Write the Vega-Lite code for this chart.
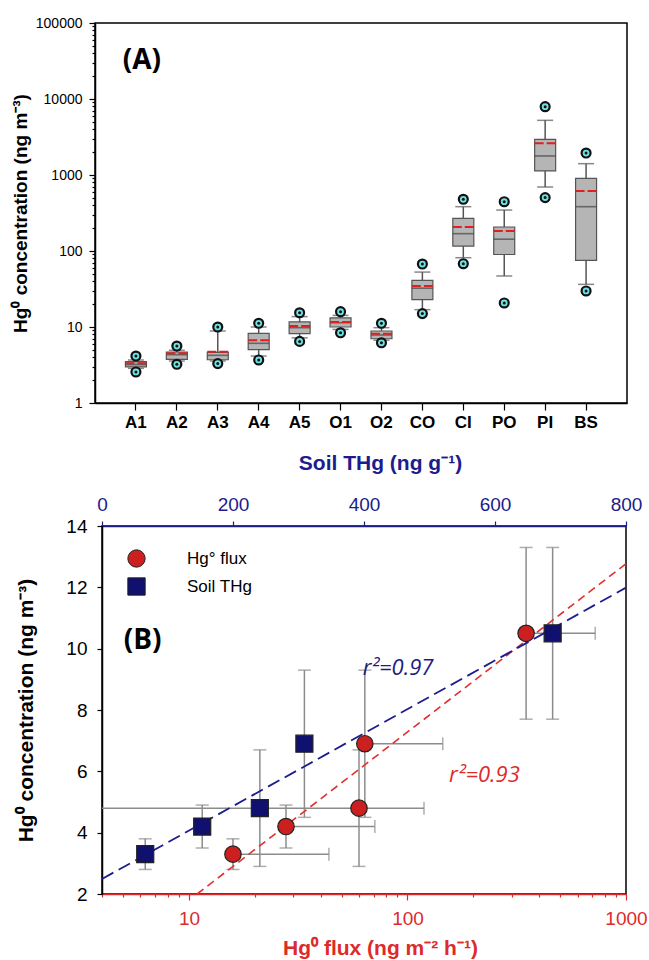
{
  "$schema": "https://vega.github.io/schema/vega-lite/v6.json",
  "background": "white",
  "padding": {"left": 10, "top": 15, "right": 5, "bottom": 5},
  "config": {
    "font": "Liberation Sans",
    "view": {"stroke": "#000", "strokeWidth": 1.5},
    "axis": {
      "labelFont": "Liberation Sans", "titleFont": "Liberation Sans", "grid": false,
      "domainColor": "#000", "tickColor": "#000", "labelColor": "#000", "titleColor": "#000",
      "domainWidth": 1.5, "tickWidth": 1.2, "labelFlush": false, "labelOverlap": false
    }
  },
  "datasets": {
    "boxes": [
      {"site": "A1", "p5": 2.56, "p10": 2.86, "q1": 2.98, "med": 3.2, "mean": 3.33, "q3": 3.5, "p90": 3.68, "p95": 4.15},
      {"site": "A2", "p5": 3.23, "p10": 3.57, "q1": 3.76, "med": 4.32, "mean": 4.51, "q3": 4.69, "p90": 4.94, "p95": 5.62},
      {"site": "A3", "p5": 3.3, "p10": 3.57, "q1": 3.71, "med": 4.24, "mean": 4.73, "q3": 4.64, "p90": 8.86, "p95": 10.0},
      {"site": "A4", "p5": 3.68, "p10": 4.15, "q1": 5.03, "med": 6.1, "mean": 6.68, "q3": 8.26, "p90": 10.0, "p95": 11.2},
      {"site": "A5", "p5": 6.46, "p10": 7.2, "q1": 8.17, "med": 9.8, "mean": 10.3, "q3": 11.7, "p90": 13.7, "p95": 15.4},
      {"site": "O1", "p5": 8.4, "p10": 9.3, "q1": 10.0, "med": 11.4, "mean": 11.6, "q3": 13.2, "p90": 14.2, "p95": 15.9},
      {"site": "O2", "p5": 6.2, "p10": 6.7, "q1": 7.0, "med": 7.85, "mean": 8.17, "q3": 8.86, "p90": 9.8, "p95": 11.2},
      {"site": "CO", "p5": 15.0, "p10": 16.9, "q1": 22.9, "med": 32.4, "mean": 34.6, "q3": 41.1, "p90": 52.8, "p95": 67.4},
      {"site": "CI", "p5": 68, "p10": 81.6, "q1": 116, "med": 169, "mean": 207, "q3": 269, "p90": 383, "p95": 479},
      {"site": "PO", "p5": 20.7, "p10": 46.9, "q1": 90, "med": 143, "mean": 183, "q3": 207, "p90": 346, "p95": 445},
      {"site": "PI", "p5": 504, "p10": 695, "q1": 1130, "med": 1780, "mean": 2610, "q3": 2950, "p90": 5240, "p95": 7920},
      {"site": "BS", "p5": 29.8, "p10": 36.4, "q1": 75.4, "med": 383, "mean": 615, "q3": 904, "p90": 1410, "p95": 1946}
    ],
    "sites": [
      {"site": 1, "conc": 3.3, "cmin": 2.8, "cmax": 3.8, "flux": 15.9, "fluxlo": 15.9, "fluxhi": 43.7, "soil": 66},
      {"site": 2, "conc": 4.2, "cmin": 3.5, "cmax": 4.9, "flux": 27.8, "fluxlo": 27.8, "fluxhi": 70.9, "soil": 153},
      {"site": 3, "conc": 4.8, "cmin": 2.9, "cmax": 6.7, "flux": 60, "fluxlo": 1, "fluxhi": 119, "soil": 241},
      {"site": 4, "conc": 6.9, "cmin": 4.5, "cmax": 9.3, "flux": 63.8, "fluxlo": 63.8, "fluxhi": 145, "soil": 309},
      {"site": 5, "conc": 10.5, "cmin": 7.7, "cmax": 13.3, "flux": 349, "fluxlo": null, "fluxhi": null, "soil": 688, "soillo": 645, "soilhi": 753}
    ],
    "fluxfit": [{"flux": 10.9, "conc": 2.0}, {"flux": 1000, "conc": 12.77}],
    "soilfit": [{"soil": 0, "conc": 2.49}, {"soil": 800, "conc": 11.99}]
  },
  "vconcat": [
    {
      "width": 532,
      "height": 380,
      "data": {"name": "boxes"},
      "encoding": {
        "x": {
          "field": "site", "type": "nominal",
          "scale": {"type": "band", "domain": ["A1","A2","A3","A4","A5","O1","O2","CO","CI","PO","PI","BS"], "paddingInner": 0.487, "paddingOuter": 0.7435},
          "axis": {"title": null, "labelAngle": 0, "labelFontSize": 17, "labelFontWeight": "bold", "tickSize": 7, "labelPadding": 4}
        }
      },
      "layer": [
        {
          "mark": {"type": "rule", "color": "#555", "strokeWidth": 1.5},
          "encoding": {
            "y": {
              "field": "p10", "type": "quantitative",
              "scale": {"type": "log", "domain": [1, 100000], "nice": false, "padding": 0},
              "axis": {
                "title": "Hg⁰ concentration (ng m⁻³)", "titleFontSize": 19, "titleFontWeight": "bold",
                "titleX": -75, "titleBaseline": "middle",
                "values": [1,2,3,4,5,6,7,8,9,10,20,30,40,50,60,70,80,90,100,200,300,400,500,600,700,800,900,1000,2000,3000,4000,5000,6000,7000,8000,9000,10000,20000,30000,40000,50000,60000,70000,80000,90000,100000],
                "format": "d",
                "labelExpr": "indexof([1,10,100,1000,10000,100000], datum.value) >= 0 ? datum.label : ''",
                "tickSize": {"condition": {"test": "indexof([1,10,100,1000,10000,100000], datum.value) >= 0", "value": 6}, "value": 3},
                "labelFontSize": 14, "labelPadding": 7
              }
            },
            "y2": {"field": "p90"}
          }
        },
        {
          "transform": [{"fold": ["p10", "p90"], "as": ["k", "v"]}],
          "mark": {"type": "tick", "orient": "horizontal", "size": 16, "thickness": 1.5, "color": "#555"},
          "encoding": {"y": {"field": "v", "type": "quantitative"}}
        },
        {
          "mark": {"type": "bar", "fill": "#b5b5b5", "stroke": "#555", "strokeWidth": 1.2},
          "encoding": {"y": {"field": "q1", "type": "quantitative"}, "y2": {"field": "q3"}}
        },
        {
          "mark": {"type": "tick", "orient": "horizontal", "size": 21, "thickness": 1.6, "color": "#444"},
          "encoding": {"y": {"field": "med", "type": "quantitative"}}
        },
        {
          "mark": {"type": "point", "shape": "M-1,0L1,0", "size": 441, "filled": false, "color": "#e02020", "strokeWidth": 2, "strokeDash": [9, 3], "opacity": 1},
          "encoding": {"y": {"field": "mean", "type": "quantitative"}}
        },
        {
          "transform": [{"fold": ["p5", "p95"], "as": ["k", "v"]}],
          "mark": {"type": "point", "shape": "circle", "size": 80, "filled": true, "fill": "#6fe3e3", "stroke": "#111", "strokeWidth": 2.2, "opacity": 1},
          "encoding": {"y": {"field": "v", "type": "quantitative"}}
        },
        {
          "transform": [{"fold": ["p5", "p95"], "as": ["k", "v"]}],
          "mark": {"type": "point", "shape": "circle", "size": 9, "filled": true, "color": "#111", "opacity": 1},
          "encoding": {"y": {"field": "v", "type": "quantitative"}}
        },
        {
          "data": {"values": [{"t": "(A)"}]},
          "mark": {"type": "text", "font": "Open Sans", "fontWeight": "bold", "fontSize": 28, "dx": 6, "align": "center", "baseline": "middle", "color": "#000"},
          "encoding": {"x": {"datum": "A1"}, "y": {"datum": 31623}, "text": {"field": "t"}}
        }
      ]
    },
    {
      "hconcat": [
        {
          "width": 7, "height": 368,
          "data": {"values": [{"z": 0}]},
          "mark": {"type": "point", "opacity": 0},
          "encoding": {},
          "view": {"stroke": "transparent"}
        },
        {
          "width": 524,
          "height": 368,
          "resolve": {"scale": {"x": "independent"}},
          "layer": [
            {
              "data": {"name": "sites"},
              "transform": [{"filter": "isValid(datum.fluxhi)"}],
              "mark": {"type": "rule", "color": "#8c8c8c", "strokeWidth": 1.5, "clip": true},
              "encoding": {
                "x": {
                  "field": "fluxlo", "type": "quantitative",
                  "scale": {"type": "log", "domain": [4, 1000], "nice": false, "padding": 0},
                  "axis": {
                    "orient": "bottom", "title": "Hg⁰ flux (ng m⁻² h⁻¹)", "titleColor": "#dd2a2a", "titleFontSize": 21, "titleFontWeight": "bold",
                    "titleX": 278, "titleY": 54, "titleBaseline": "middle",
                    "values": [4,5,6,7,8,9,10,20,30,40,50,60,70,80,90,100,200,300,400,500,600,700,800,900,1000],
                    "format": "d",
                    "labelExpr": "indexof([10,100,1000], datum.value) >= 0 ? datum.label : ''",
                    "tickSize": {"condition": {"test": "indexof([10,100,1000], datum.value) >= 0", "value": 6}, "value": 3},
                    "labelFontSize": 19, "labelColor": "#dd2a2a", "labelPadding": 9,
                    "domainColor": "#dd2a2a", "tickColor": "#dd2a2a"
                  }
                },
                "x2": {"field": "fluxhi"},
                "y": {
                  "field": "conc", "type": "quantitative",
                  "scale": {"domain": [2, 14], "nice": false, "zero": false, "padding": 0},
                  "axis": {
                    "title": "Hg⁰ concentration (ng m⁻³)", "titleFontSize": 21, "titleFontWeight": "bold",
                    "titleX": -76, "titleBaseline": "middle",
                    "values": [2, 4, 6, 8, 10, 12, 14], "labelFontSize": 19, "labelPadding": 10, "tickSize": 5
                  }
                }
              }
            },
            {
              "data": {"name": "sites"},
              "transform": [{"filter": "isValid(datum.fluxhi)"}],
              "mark": {"type": "tick", "orient": "vertical", "size": 13, "thickness": 1.5, "color": "#8c8c8c"},
              "encoding": {
                "x": {"field": "fluxhi", "type": "quantitative", "scale": {"type": "log", "domain": [4, 1000], "nice": false, "padding": 0}, "axis": null},
                "y": {"field": "conc", "type": "quantitative"}
              }
            },
            {
              "data": {"name": "sites"},
              "transform": [{"filter": "isValid(datum.soilhi)"}],
              "mark": {"type": "rule", "color": "#8c8c8c", "strokeWidth": 1.5},
              "encoding": {
                "x": {
                  "field": "soillo", "type": "quantitative",
                  "scale": {"type": "linear", "domain": [0, 800], "nice": false, "zero": false, "padding": 0},
                  "axis": {
                    "orient": "top", "title": "Soil THg (ng g⁻¹)", "titleColor": "#1c1c8c", "titleFontSize": 21, "titleFontWeight": "bold",
                    "titleX": 278, "titleY": -63, "titleBaseline": "middle",
                    "values": [0, 200, 400, 600, 800], "format": "d",
                    "labelFontSize": 19, "labelColor": "#1c1c8c", "labelPadding": 7, "tickSize": 5,
                    "domainColor": "#1c1c8c", "tickColor": "#1c1c8c"
                  }
                },
                "x2": {"field": "soilhi"},
                "y": {"field": "conc", "type": "quantitative"}
              }
            },
            {
              "data": {"name": "sites"},
              "transform": [{"filter": "isValid(datum.soilhi)"}],
              "mark": {"type": "tick", "orient": "vertical", "size": 13, "thickness": 1.5, "color": "#8c8c8c"},
              "encoding": {
                "x": {"field": "soilhi", "type": "quantitative", "scale": {"type": "linear", "domain": [0, 800], "nice": false, "zero": false, "padding": 0}, "axis": null},
                "y": {"field": "conc", "type": "quantitative"}
              }
            },
            {
              "data": {"name": "sites"},
              "mark": {"type": "rule", "color": "#8c8c8c", "strokeWidth": 1.5},
              "encoding": {
                "x": {"field": "flux", "type": "quantitative", "scale": {"type": "log", "domain": [4, 1000], "nice": false, "padding": 0}, "axis": null},
                "y": {"field": "cmin", "type": "quantitative"},
                "y2": {"field": "cmax"}
              }
            },
            {
              "data": {"name": "sites"},
              "transform": [{"fold": ["cmin", "cmax"], "as": ["k", "cv"]}],
              "mark": {"type": "tick", "orient": "horizontal", "size": 13, "thickness": 1.5, "color": "#8c8c8c"},
              "encoding": {
                "x": {"field": "flux", "type": "quantitative", "scale": {"type": "log", "domain": [4, 1000], "nice": false, "padding": 0}, "axis": null},
                "y": {"field": "cv", "type": "quantitative"}
              }
            },
            {
              "data": {"name": "sites"},
              "mark": {"type": "rule", "color": "#8c8c8c", "strokeWidth": 1.5},
              "encoding": {
                "x": {"field": "soil", "type": "quantitative", "scale": {"type": "linear", "domain": [0, 800], "nice": false, "zero": false, "padding": 0}, "axis": null},
                "y": {"field": "cmin", "type": "quantitative"},
                "y2": {"field": "cmax"}
              }
            },
            {
              "data": {"name": "sites"},
              "transform": [{"fold": ["cmin", "cmax"], "as": ["k", "cv"]}],
              "mark": {"type": "tick", "orient": "horizontal", "size": 13, "thickness": 1.5, "color": "#8c8c8c"},
              "encoding": {
                "x": {"field": "soil", "type": "quantitative", "scale": {"type": "linear", "domain": [0, 800], "nice": false, "zero": false, "padding": 0}, "axis": null},
                "y": {"field": "cv", "type": "quantitative"}
              }
            },
            {
              "data": {"name": "fluxfit"},
              "mark": {"type": "line", "color": "#e03030", "strokeWidth": 1.6, "strokeDash": [8, 5], "clip": true},
              "encoding": {
                "x": {"field": "flux", "type": "quantitative", "scale": {"type": "log", "domain": [4, 1000], "nice": false, "padding": 0}, "axis": null},
                "y": {"field": "conc", "type": "quantitative"}
              }
            },
            {
              "data": {"name": "soilfit"},
              "mark": {"type": "line", "color": "#1d1d8f", "strokeWidth": 1.8, "strokeDash": [13, 6], "clip": true},
              "encoding": {
                "x": {"field": "soil", "type": "quantitative", "scale": {"type": "linear", "domain": [0, 800], "nice": false, "zero": false, "padding": 0}, "axis": null},
                "y": {"field": "conc", "type": "quantitative"}
              }
            },
            {
              "data": {"name": "sites"},
              "mark": {"type": "point", "filled": true, "size": 270, "stroke": "#222", "strokeWidth": 1.2, "opacity": 1},
              "encoding": {
                "x": {"field": "flux", "type": "quantitative", "scale": {"type": "log", "domain": [4, 1000], "nice": false, "padding": 0}, "axis": null},
                "y": {"field": "conc", "type": "quantitative"},
                "color": {
                  "datum": "Hg° flux", "type": "nominal",
                  "scale": {"domain": ["Hg° flux", "Soil THg"], "range": ["#cc1f1f", "#10106e"]},
                  "legend": {"title": null, "orient": "none", "legendX": 32, "legendY": 526, "symbolSize": 300, "labelFontSize": 17, "labelFont": "Liberation Sans", "labelColor": "#000", "labelOffset": 41, "rowPadding": 5, "symbolStrokeColor": "#222", "symbolStrokeWidth": 1, "padding": 0}
                },
                "shape": {
                  "datum": "Hg° flux", "type": "nominal",
                  "scale": {"domain": ["Hg° flux", "Soil THg"], "range": ["circle", "square"]},
                  "legend": {"title": null, "orient": "none", "legendX": 32, "legendY": 526, "symbolSize": 300, "labelFontSize": 17, "labelFont": "Liberation Sans", "labelColor": "#000", "labelOffset": 41, "rowPadding": 5, "symbolStrokeColor": "#222", "symbolStrokeWidth": 1, "padding": 0}
                }
              }
            },
            {
              "data": {"name": "sites"},
              "mark": {"type": "point", "filled": true, "size": 290, "stroke": "#222", "strokeWidth": 1.2, "opacity": 1},
              "encoding": {
                "x": {"field": "soil", "type": "quantitative", "scale": {"type": "linear", "domain": [0, 800], "nice": false, "zero": false, "padding": 0}, "axis": null},
                "y": {"field": "conc", "type": "quantitative"},
                "color": {"datum": "Soil THg", "type": "nominal"},
                "shape": {"datum": "Soil THg", "type": "nominal"}
              }
            },
            {
              "data": {"values": [{"t": "r²=0.97"}]},
              "mark": {"type": "text", "font": "Open Sans", "fontStyle": "italic", "fontSize": 22, "color": "#1d1d80", "align": "center", "baseline": "middle"},
              "encoding": {
                "x": {"datum": 452, "type": "quantitative", "scale": {"type": "linear", "domain": [0, 800], "nice": false, "zero": false, "padding": 0}, "axis": null},
                "y": {"datum": 9.38, "type": "quantitative"},
                "text": {"field": "t"}
              }
            },
            {
              "data": {"values": [{"t": "r²=0.93"}]},
              "mark": {"type": "text", "font": "Open Sans", "fontStyle": "italic", "fontSize": 22, "color": "#dd2a2a", "align": "center", "baseline": "middle"},
              "encoding": {
                "x": {"datum": 225, "type": "quantitative", "scale": {"type": "log", "domain": [4, 1000], "nice": false, "padding": 0}, "axis": null},
                "y": {"datum": 5.87, "type": "quantitative"},
                "text": {"field": "t"}
              }
            },
            {
              "data": {"values": [{"t": "(B)"}]},
              "mark": {"type": "text", "font": "Open Sans", "fontWeight": "bold", "fontSize": 28, "color": "#000", "align": "center", "baseline": "middle"},
              "encoding": {
                "x": {"datum": 62, "type": "quantitative", "scale": {"type": "linear", "domain": [0, 800], "nice": false, "zero": false, "padding": 0}, "axis": null},
                "y": {"datum": 10.25, "type": "quantitative"},
                "text": {"field": "t"}
              }
            }
          ]
        }
      ],
      "spacing": 0,
      "bounds": "flush"
    }
  ],
  "spacing": 123,
  "bounds": "flush"
}
